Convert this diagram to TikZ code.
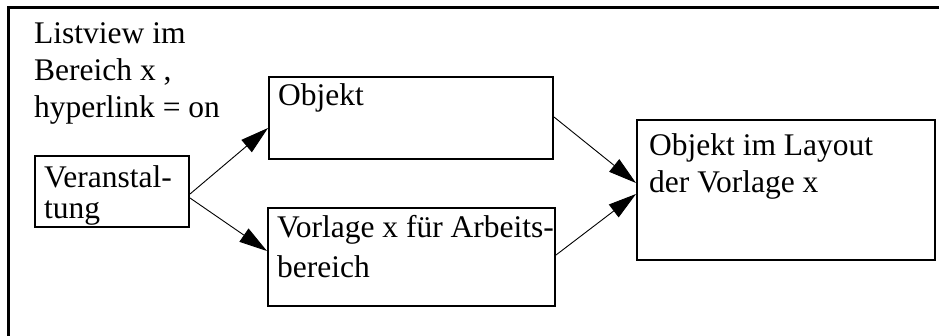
\documentclass[tikz,border=0pt]{standalone}
\usepackage{fontspec}
\setmainfont{Liberation Serif}
\usetikzlibrary{arrows.meta}
\begin{document}
\begin{tikzpicture}[x=1pt,y=-1pt,
  box/.style={draw,line width=2pt,rectangle,anchor=north west,inner sep=0pt},
  lbl/.style={anchor=base west,inner sep=0pt,align=left,font=\fontsize{31.5}{#1}\selectfont},
  lbl/.default=37,
  conn/.style={line width=0.9pt,-{Triangle[length=28pt,width=16pt]}}]
\useasboundingbox (0,0) rectangle (939,335);
% outer frame
\draw[line width=3pt] (8,340) -- (8,7.5) -- (945,7.5);
% boxes
\node[box,minimum width=154pt,minimum height=71pt] (ver) at (34,155) {};
\node[box,minimum width=284pt,minimum height=82pt] (obj) at (268,76) {};
\node[box,minimum width=287pt,minimum height=98pt] (vor) at (267,207) {};
\node[box,minimum width=298pt,minimum height=140pt] (lay) at (636,119) {};
% labels (base anchor = baseline of the last line)
\node[lbl] (tlist) at (34,117) {Listview im\\Bereich x ,\\hyperlink = on};
\node[lbl=31] (tver) at (44,218) {Veranstal-\\tung};
\node[lbl] (tobj) at (278,105) {Objekt};
\node[lbl=40] (tvor) at (277,277) {Vorlage x für Arbeits-\\bereich};
\node[lbl] (tlay) at (649,192) {Objekt im Layout\\der Vorlage x};
% connectors
\draw[conn] ([yshift=-2.5pt]ver.east) -- ([yshift=-10pt]obj.west);
\draw[conn] ([yshift=-6.5pt]ver.east) -- ([yshift=6pt]vor.west);
\draw[conn] ([yshift=1pt]obj.east) -- ([yshift=7pt]lay.west);
\draw[conn] ([yshift=2pt]vor.east) -- ([yshift=-4pt]lay.west);
\end{tikzpicture}
\end{document}
